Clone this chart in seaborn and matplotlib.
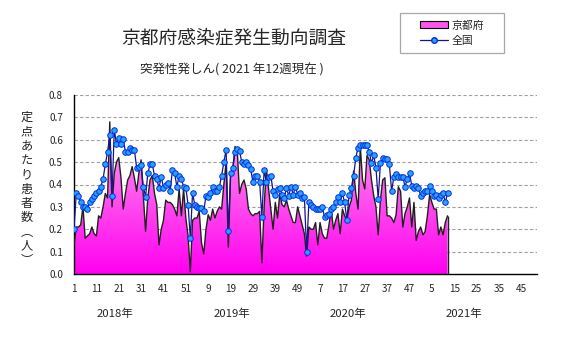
import numpy as np
import pandas as pd
import matplotlib
matplotlib.use("Agg")
import matplotlib.pyplot as plt
import seaborn as sns
from matplotlib.colors import LinearSegmentedColormap
from matplotlib.patches import Patch, Rectangle
from matplotlib.lines import Line2D

# ---------------- data ----------------
kyoto = [
    0.13, 0.21, 0.21, 0.22, 0.30, 0.16, 0.17, 0.18, 0.21, 0.18,
    0.17, 0.26, 0.25, 0.30, 0.36, 0.34, 0.68, 0.30, 0.45, 0.50,
    0.52, 0.43, 0.29, 0.36, 0.42, 0.44, 0.48, 0.43, 0.37, 0.45,
    0.51, 0.35, 0.19, 0.34, 0.42, 0.44, 0.36, 0.31, 0.13, 0.20,
    0.24, 0.33, 0.32, 0.32, 0.31, 0.29, 0.26, 0.38, 0.26, 0.38,
    0.25, 0.17, 0.01, 0.24, 0.25, 0.25, 0.28, 0.14, 0.09, 0.20,
    0.265, 0.24, 0.29, 0.25, 0.28, 0.30, 0.29, 0.40, 0.50, 0.12,
    0.44, 0.47, 0.57, 0.55, 0.36, 0.40, 0.42, 0.38, 0.29, 0.27,
    0.26, 0.27, 0.27, 0.28, 0.05, 0.30, 0.47, 0.38, 0.29, 0.20,
    0.32, 0.25, 0.36, 0.31, 0.30, 0.33, 0.29, 0.26, 0.23, 0.23,
    0.30, 0.26, 0.22, 0.18, 0.08, 0.21, 0.20, 0.20, 0.23, 0.13,
    0.23, 0.18, 0.16, 0.16, 0.22, 0.29, 0.20, 0.24, 0.27, 0.18,
    0.29, 0.26, 0.24, 0.30, 0.33, 0.46, 0.36, 0.29, 0.57, 0.42,
    0.38, 0.53, 0.51, 0.42, 0.35, 0.30, 0.175, 0.33, 0.42, 0.43,
    0.26, 0.26, 0.25, 0.23, 0.265, 0.39, 0.37, 0.21, 0.27, 0.30,
    0.34, 0.21, 0.32, 0.15, 0.19, 0.21, 0.175, 0.19, 0.26, 0.355,
    0.32, 0.29, 0.29, 0.175, 0.21, 0.175, 0.23, 0.26,
]

national = [
    0.20, 0.36, 0.35, 0.32, 0.30, 0.30, 0.29, 0.32, 0.335, 0.35,
    0.36, 0.37, 0.39, 0.425, 0.49, 0.545, 0.62, 0.35, 0.645, 0.58,
    0.61, 0.58, 0.605, 0.545, 0.545, 0.565, 0.555, 0.555, 0.475, 0.48,
    0.485, 0.39, 0.345, 0.45, 0.49, 0.49, 0.44, 0.425, 0.385, 0.435,
    0.385, 0.40, 0.405, 0.37, 0.465, 0.45, 0.39, 0.44, 0.425, 0.39,
    0.385, 0.31, 0.16, 0.36, 0.31, 0.30, 0.295, 0.295, 0.28, 0.35,
    0.345, 0.36, 0.39, 0.37, 0.37, 0.39, 0.44, 0.50, 0.555, 0.19,
    0.45, 0.475, 0.545, 0.56, 0.55, 0.50, 0.49, 0.50, 0.485, 0.47,
    0.41, 0.44, 0.44, 0.41, 0.255, 0.465, 0.41, 0.435, 0.44, 0.37,
    0.355, 0.38, 0.385, 0.355, 0.34, 0.385, 0.35, 0.39, 0.355, 0.39,
    0.355, 0.36, 0.34, 0.345, 0.10, 0.32, 0.31, 0.30, 0.29, 0.29,
    0.29, 0.30, 0.255, 0.265, 0.27, 0.29, 0.30, 0.32, 0.345, 0.32,
    0.36, 0.32, 0.24, 0.355, 0.385, 0.44, 0.52, 0.565, 0.575, 0.575,
    0.575, 0.575, 0.545, 0.495, 0.53, 0.475, 0.335, 0.495, 0.52, 0.515,
    0.515, 0.49, 0.37, 0.435, 0.445, 0.435, 0.435, 0.435, 0.39, 0.425,
    0.45, 0.395, 0.385, 0.395, 0.385, 0.35, 0.36, 0.37, 0.37, 0.395,
    0.37, 0.35, 0.355, 0.34, 0.355, 0.36, 0.32, 0.36,
]

tick_labels = ["1", "11", "21", "31", "41", "51", "9", "19", "29", "39", "49",
               "7", "17", "27", "37", "47", "5", "15", "25", "35", "45"]
years = ["2018年", "2019年", "2020年", "2021年"]
series_names = ["京都府", "全国"]
weeks_per_year = 52
n_categories = 208

title = "京都府感染症発生動向調査"
subtitle = "突発性発しん( 2021 年12週現在 )"
ylabel_chars = ["定", "点", "あ", "た", "り", "患", "者", "数", "︵", "人", "︶"]

# ---------------- figure ----------------
sns.set_theme(style="white")
plt.rcParams['font.family'] = ['Noto Sans CJK JP', 'DejaVu Sans']

W, H = 567, 339
fig = plt.figure(figsize=(W/100, H/100), dpi=100)
ax = fig.add_axes([74/W, 1-274/H, (537-74)/W, (274-95)/H])

x = np.arange(len(kyoto))
df_k = pd.DataFrame({"week": x, "value": kyoto})
df_n = pd.DataFrame({"week": np.arange(len(national)), "value": national})

LINE_K = '#202020'
LINE_N = '#14148C'
MFC = '#2AA0FF'
MEC = '#0030E0'

# gradient area fill for Kyoto
poly = ax.fill_between(df_k["week"], df_k["value"], 0, color='none', lw=0)
path = poly.get_paths()[0]
grad = np.linspace(0, 1, 256).reshape(-1, 1)
cmap = LinearSegmentedColormap.from_list('pinkgrad', ['#FF00F0', '#FF55EE', '#FFB0F2'])
im = ax.imshow(grad, extent=[0, len(kyoto)-1, 0, 0.7], origin='lower', aspect='auto',
               cmap=cmap, zorder=1, interpolation='bilinear')
im.set_clip_path(path, transform=ax.transData)

sns.lineplot(data=df_k, x="week", y="value", ax=ax, color=LINE_K, lw=1.0,
             zorder=3, legend=False)
ax.vlines(len(kyoto)-1, 0, kyoto[-1], color=LINE_K, lw=1.0, zorder=3)

sns.lineplot(data=df_n, x="week", y="value", ax=ax, color=LINE_N, lw=0.9,
             marker='o', markersize=4.0, markerfacecolor=MFC,
             markeredgecolor=MEC, markeredgewidth=0.7, zorder=4, legend=False)

ax.set_xlim(0, n_categories - 1)
ax.set_ylim(0, 0.8)
ax.set_xlabel("")
ax.set_ylabel("")

ax.set_yticks(np.arange(0, 0.81, 0.1))
ax.set_yticklabels([f"{v:.1f}" for v in np.arange(0, 0.81, 0.1)], fontsize=7.2)
ax.set_xticks(np.arange(0, 201, 10))
ax.set_xticklabels(tick_labels, fontsize=7.2)
ax.set_xticks(np.arange(0, n_categories, 5), minor=True)
ax.tick_params(axis='x', which='both', direction='in', length=3, width=0.8,
               color='black', pad=7)
ax.tick_params(axis='y', which='both', direction='in', length=3, width=0.8,
               color='black', pad=8)

for v in np.arange(0.1, 0.81, 0.1):
    ax.axhline(v, color='#A0A0A0', lw=0.8, ls=(0, (3, 2)), zorder=0.5)

for s in ['top', 'right']:
    ax.spines[s].set_visible(False)
for s in ['left', 'bottom']:
    ax.spines[s].set_color('black')
    ax.spines[s].set_linewidth(1.0)
ax.set_facecolor('white')

# year labels
trans = matplotlib.transforms.blended_transform_factory(ax.transData, ax.transAxes)
for k, yr in enumerate(years):
    ax.text(18.5 + weeks_per_year * k, -0.225, yr, transform=trans,
            ha='center', va='center', fontsize=8.2)

# titles
fig.text(234/W, 1-38/H, title, ha='center', va='center', fontsize=13.5)
fig.text(232/W, 1-70/H, subtitle, ha='center', va='center', fontsize=9.0)

# vertical y label
fig.text(27/W, 1-189/H, "\n".join(ylabel_chars), ha='center', va='center',
         fontsize=8.8, linespacing=1.13)

# legend: frame drawn as a rectangle, entries via matplotlib legend
fig.patches.append(Rectangle((400/W, 1-53/H), 104/W, 40/H, transform=fig.transFigure,
                             facecolor='white', edgecolor='#A8A8A8', lw=0.9,
                             figure=fig, zorder=5))
handles = [Patch(facecolor='#FF55EE', edgecolor='black', lw=0.8),
           Line2D([0], [0], color=LINE_N, lw=0.9, marker='o', markersize=4,
                  markerfacecolor=MFC, markeredgecolor=MEC)]
leg = fig.legend(handles, series_names, loc='center',
                 bbox_to_anchor=(452/W, 1-33/H), fontsize=7.8, frameon=False,
                 handlelength=2.6, handleheight=0.6, borderpad=0.2,
                 labelspacing=0.45, handletextpad=0.25)
leg.set_zorder(6)

fig.savefig("out.png", dpi=100, facecolor='white')
